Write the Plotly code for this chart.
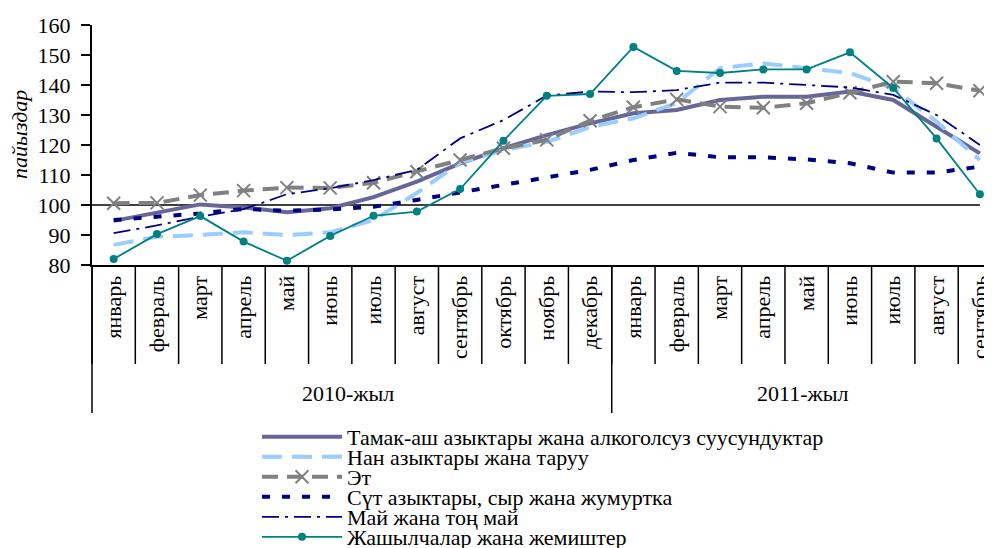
import plotly.graph_objects as go

months = ["январь", "февраль", "март", "апрель", "май", "июнь", "июль", "август",
          "сентябрь", "октябрь", "ноябрь", "декабрь",
          "январь", "февраль", "март", "апрель", "май", "июнь", "июль", "август", "сентябрь"]
years = ["2010-жыл"] * 12 + ["2011-жыл"] * 9

food = [94.7, 97.3, 100.2, 99.2, 97.6, 98.9, 102.6, 107.8, 113.9, 118.9, 123.3, 127.2,
        130.6, 131.7, 135.0, 136.1, 136.1, 137.8, 135.0, 126.1, 117.2]
bread = [86.7, 89.4, 90.0, 90.9, 90.0, 90.9, 95.0, 104.0, 114.1, 118.3, 121.0, 126.0,
         128.9, 134.0, 145.6, 147.2, 145.6, 144.0, 138.9, 127.8, 115.0]
meat = [100.6, 100.7, 103.3, 104.8, 105.8, 105.7, 107.4, 111.1, 115.0, 118.9, 121.7, 128.1,
        132.6, 135.2, 132.8, 132.4, 133.9, 137.4, 141.1, 140.6, 138.1]
dairy = [95.0, 96.0, 97.2, 98.7, 98.1, 98.5, 99.4, 101.7, 104.1, 106.7, 109.2, 111.7,
         115.0, 117.4, 115.9, 115.9, 115.2, 113.9, 110.8, 110.8, 112.8]
oil = [90.6, 93.2, 96.1, 98.6, 103.6, 105.6, 108.3, 111.7, 122.2, 128.3, 136.5, 137.8,
       137.6, 138.3, 140.8, 140.8, 140.0, 139.2, 136.7, 130.0, 120.0]
veg = [82.0, 90.3, 96.3, 87.8, 81.4, 89.7, 96.4, 97.8, 105.3, 121.4, 136.4, 137.0,
       152.7, 144.7, 144.0, 145.2, 145.2, 150.9, 139.0, 122.2, 103.6]

names = ["Тамак-аш азыктары жана алкоголсуз суусундуктар",
         "Нан азыктары жана таруу",
         "Эт",
         "Сүт азыктары, сыр жана жумуртка",
         "Май жана тоң май",
         "Жашылчалар жана жемиштер"]

FONT = "Liberation Serif"
FS = 22
x = [years, months]
n = len(months)
xmax = n - 1 + 0.28
span = xmax + 0.5

OFF = 8  # page body margin
W, H = 992 - OFF, 548 - OFF
L, R, T = 92 - OFF, 0, 25 - OFF
ph = 240
B = H - T - ph
pw = W - L - R


def py(pix):
    return 1 - (pix - OFF - T) / ph


def px(pix):
    return (pix - OFF - L) / pw


fig = go.Figure()
styles = [
    dict(values=food, line=dict(color="#666699", width=4), mode="lines"),
    dict(values=bread, line=dict(color="#99CCFF", width=4, dash="20px,10px"), mode="lines"),
    dict(values=meat, line=dict(color="#808080", width=4, dash="16px,9px"), mode="lines+markers",
         marker=dict(symbol="x-thin", size=13, color="#808080", line=dict(color="#808080", width=2))),
    dict(values=dairy, line=dict(color="#000080", width=4, dash="8px,12px"), mode="lines"),
    dict(values=oil, line=dict(color="#000080", width=1.8, dash="17px,6px,3px,6px"), mode="lines"),
    dict(values=veg, line=dict(color="#008080", width=1.8), mode="lines+markers",
         marker=dict(symbol="circle", size=8, color="#008080")),
]

legend_rows = [437 + 20.0 * k for k in range(6)]
for i, (nm, st) in enumerate(zip(names, styles)):
    lg = "legend" if i == 0 else f"legend{i+1}"
    kw = dict(x=x, y=st["values"], name=nm, mode=st["mode"], line=st["line"], legend=lg)
    if "marker" in st:
        kw["marker"] = st["marker"]
    fig.add_trace(go.Scatter(**kw))

shapes = []
# 100 reference line
shapes.append(dict(type="line", xref="paper", yref="y", x0=0, x1=(n - 1 + 0.5) / span,
                   y0=100, y1=100, line=dict(color="black", width=1.5), layer="below"))
# month separators
for i in range(n):
    shapes.append(dict(type="line", xref="paper", yref="paper", x0=i / span, x1=i / span,
                       y0=0, y1=py(364), line=dict(color="black", width=1.5)))
# year dividers
for i in [0, 12]:
    shapes.append(dict(type="line", xref="paper", yref="paper", x0=i / span, x1=i / span,
                       y0=0, y1=py(413), line=dict(color="black", width=1.5)))

layout_legends = {}
for i, yy in enumerate(legend_rows):
    key = "legend" if i == 0 else f"legend{i+1}"
    layout_legends[key] = dict(x=px(257), xanchor="left", y=py(yy), yanchor="middle",
                               bgcolor="rgba(0,0,0,0)", itemwidth=80,
                               font=dict(family=FONT, size=FS, color="black"))

fig.update_layout(
    width=W, height=H,
    margin=dict(l=L, r=R, t=T, b=B, pad=0, autoexpand=False),
    paper_bgcolor="white", plot_bgcolor="white",
    showlegend=True,
    font=dict(family=FONT, size=FS, color="black"),
    shapes=shapes,
    annotations=[dict(text="<i>пайыздар</i>", xref="paper", yref="paper", x=px(20),
                      y=py(135), textangle=-90, showarrow=False, xanchor="center", yanchor="middle",
                      font=dict(family=FONT, size=FS, color="black"))],
    xaxis=dict(type="multicategory", range=[-0.5, xmax], showline=True, linecolor="black", linewidth=2,
               ticks="outside", ticklen=15, tickcolor="rgba(0,0,0,0)", tickangle=-90,
               showdividers=False, showgrid=False, zeroline=False, automargin=False,
               tickfont=dict(family=FONT, size=FS, color="black")),
    yaxis=dict(range=[80, 160], dtick=10, showline=True, linecolor="black", linewidth=2,
               ticks="outside", ticklen=9, tickwidth=2, tickcolor="black", showgrid=False, zeroline=False,
               ticklabelstandoff=6, automargin=False, tickfont=dict(family=FONT, size=FS, color="black")),
    **layout_legends,
)

fig.write_html("out.html")
